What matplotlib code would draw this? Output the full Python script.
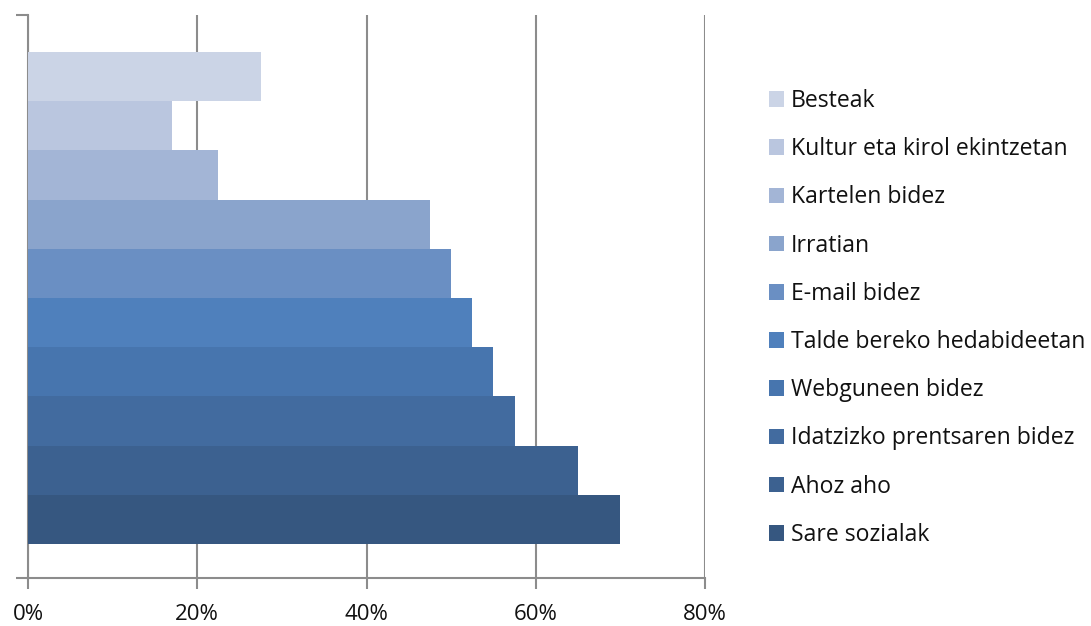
import matplotlib.pyplot as plt
from matplotlib.patches import Patch

# categories from bottom to top
categories = ['Sare sozialak', 'Ahoz aho', 'Idatzizko prentsaren bidez',
              'Webguneen bidez', 'Talde bereko hedabideetan', 'E-mail bidez',
              'Irratian', 'Kartelen bidez', 'Kultur eta kirol ekintzetan', 'Besteak']
values = [70, 65, 57.5, 55, 52.5, 50, 47.5, 22.5, 17, 27.5]
colors = ['#365780', '#3C6190', '#426B9F', '#4775AE', '#4F80BC',
          '#6A8FC3', '#8AA4CC', '#A3B5D6', '#BAC6DF', '#CBD4E6']
xticks = [0, 20, 40, 60, 80]

plt.rcParams['font.family'] = ['Open Sans', 'DejaVu Sans']
grey = '#8C8C8C'

fig = plt.figure(figsize=(10.91, 6.26), dpi=100)
ax = fig.add_axes([28 / 1091, 48 / 626, 677 / 1091, 563 / 626])

for i, (c, v, col) in enumerate(zip(categories, values, colors)):
    ax.barh(i, v, height=1.0, color=col, label=c, zorder=3)

ax.set_xlim(0, 80)
ax.set_ylim(-1.19, 10.25)
ax.set_xticks(xticks)
ax.set_xticklabels([f'{t}%' for t in xticks], fontsize=16, color='#111111')
ax.set_yticks([-1.19, 10.25])
ax.set_yticklabels([])
ax.tick_params(axis='x', direction='out', length=8, width=1.5, color=grey, pad=11)
ax.tick_params(axis='y', direction='out', length=9, width=1.5, color=grey)
ax.grid(axis='x', color=grey, linewidth=1.5, zorder=0)
for s in ['top', 'right']:
    ax.spines[s].set_visible(False)
for s in ['left', 'bottom']:
    ax.spines[s].set_color(grey)
    ax.spines[s].set_linewidth(1.5)

handles = [Patch(facecolor=col, label=c) for c, col in zip(categories, colors)][::-1]
fig.legend(handles=handles, loc='upper left', bbox_to_anchor=(769 / 1091, 1 - 89 / 626),
           frameon=False, fontsize=16.6, handlelength=0.66, handleheight=0.66,
           handletextpad=0.3, labelspacing=1.05, borderpad=0, borderaxespad=0,
           labelcolor='#111111')

fig.savefig('out.png', dpi=100)
